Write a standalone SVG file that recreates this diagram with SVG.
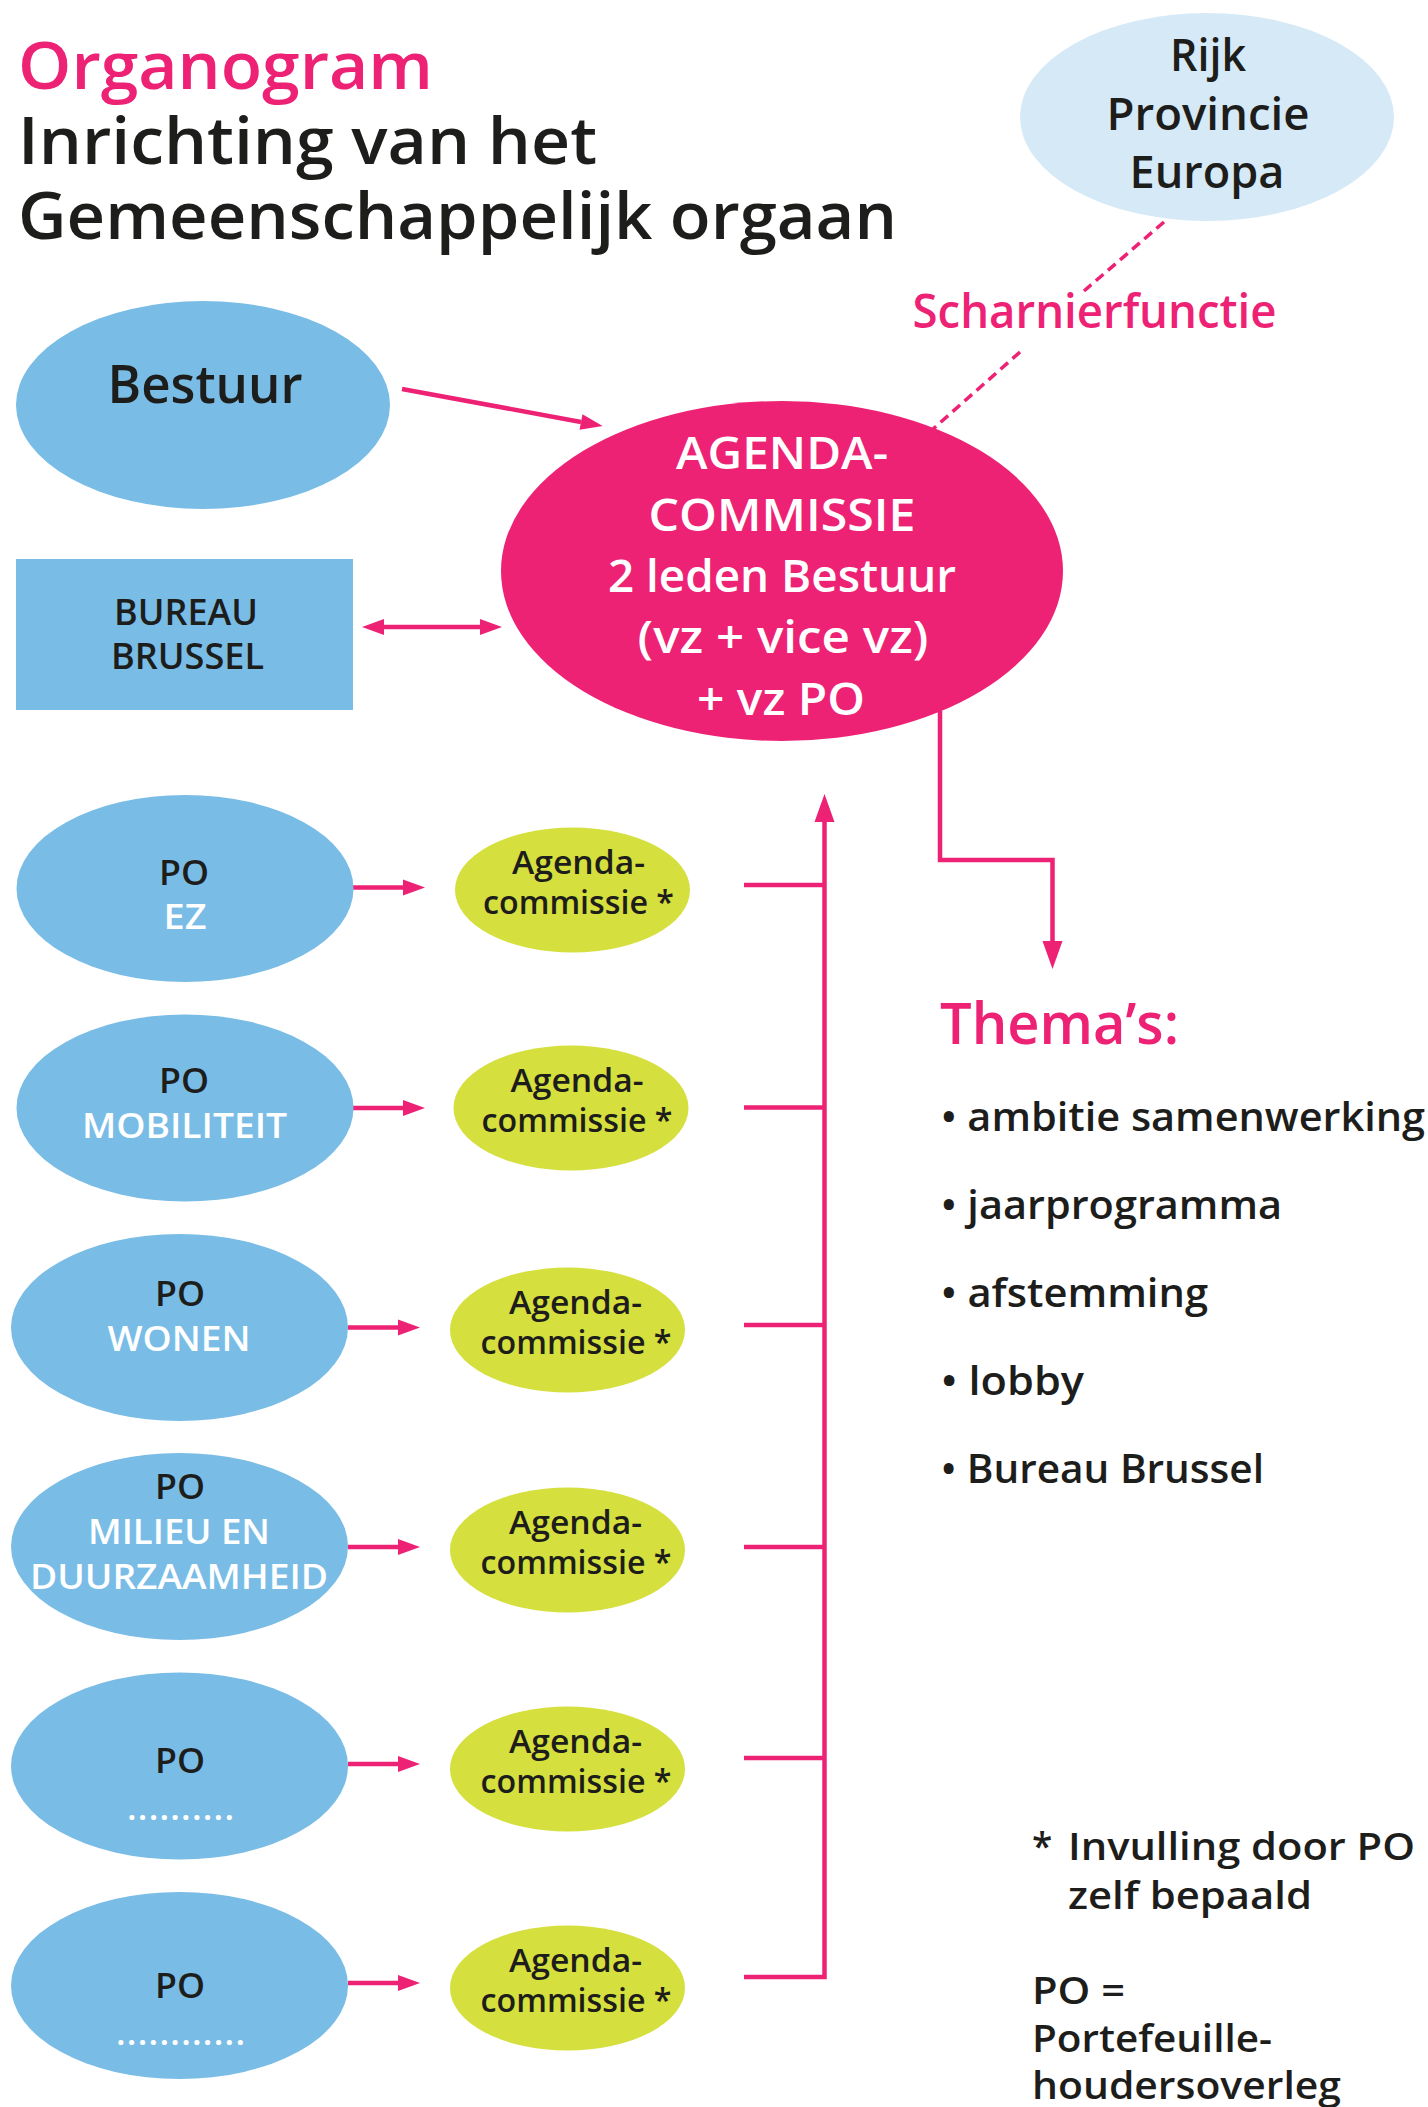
<svg xmlns="http://www.w3.org/2000/svg" width="1428" height="2107" viewBox="0 0 1428 2107">
<style>
text{font-family:"Open Sans","Noto Sans","Liberation Sans",sans-serif;font-weight:600;}
.pink{fill:#ed2275}
.blk{fill:#1d1d1b}
.wht{fill:#ffffff}
.mid{text-anchor:middle}
.blue{fill:#79bce6}
.lblue{fill:#d6e9f6}
.yel{fill:#d5df3e}
.mag{fill:#ed2275}
.ln{stroke:#ed2275;fill:none;stroke-width:4.5}
.dash{stroke:#ed2275;fill:none;stroke-width:3.5;stroke-dasharray:10 6}
.t35{font-size:35px}
.t33{font-size:33px}
</style>
<defs>
<marker id="ah" markerUnits="userSpaceOnUse" markerWidth="24" markerHeight="18" refX="0" refY="8" orient="auto-start-reverse" overflow="visible">
<path d="M0,0 L22,8 L0,16 z" fill="#ed2275"/>
</marker>
<marker id="ahb" markerUnits="userSpaceOnUse" markerWidth="30" markerHeight="22" refX="0" refY="10" orient="auto" overflow="visible">
<path d="M0,0 L28,10 L0,20 z" fill="#ed2275"/>
</marker>
</defs>

<g id="title">
<text x="18" y="89" class="pink" font-size="66" textLength="415" lengthAdjust="spacingAndGlyphs">Organogram</text>
<text x="18" y="164" class="blk" font-size="66" textLength="579" lengthAdjust="spacingAndGlyphs">Inrichting van het</text>
<text x="18" y="239" class="blk" font-size="66" textLength="879" lengthAdjust="spacingAndGlyphs">Gemeenschappelijk orgaan</text>
</g>

<g id="connectors">
<line class="dash" x1="1164" y1="222" x2="1084" y2="291"/>
<line class="dash" x1="1020" y1="352" x2="933" y2="429"/>
<line class="ln" x1="402" y1="389" x2="581" y2="422" marker-end="url(#ah)"/>
<line class="ln" x1="384" y1="627" x2="480" y2="627" marker-start="url(#ah)" marker-end="url(#ah)"/>
<path class="ln" d="M940 711 V860 H1052.5 V941" marker-end="url(#ahb)"/>
<path class="ln" stroke-width="5" d="M744 1977 H824.5 V822" marker-end="url(#ahb)"/>
<line class="ln" stroke-width="5" x1="744" y1="885" x2="824" y2="885"/>
<line class="ln" stroke-width="5" x1="744" y1="1107.5" x2="824" y2="1107.5"/>
<line class="ln" stroke-width="5" x1="744" y1="1325" x2="824" y2="1325"/>
<line class="ln" stroke-width="5" x1="744" y1="1547" x2="824" y2="1547"/>
<line class="ln" stroke-width="5" x1="744" y1="1758" x2="824" y2="1758"/>
<line class="ln" x1="353" y1="887.5" x2="403" y2="887.5" marker-end="url(#ah)"/>
<line class="ln" x1="353" y1="1108" x2="403" y2="1108" marker-end="url(#ah)"/>
<line class="ln" x1="348" y1="1327.5" x2="398" y2="1327.5" marker-end="url(#ah)"/>
<line class="ln" x1="348" y1="1547" x2="398" y2="1547" marker-end="url(#ah)"/>
<line class="ln" x1="348" y1="1764" x2="398" y2="1764" marker-end="url(#ah)"/>
<line class="ln" x1="348" y1="1983" x2="398" y2="1983" marker-end="url(#ah)"/>
</g>

<g id="rijk">
<ellipse class="lblue" cx="1207" cy="117" rx="187" ry="104"/>
<text x="1208" y="71" class="blk mid" font-size="45" textLength="76" lengthAdjust="spacingAndGlyphs">Rijk</text>
<text x="1208" y="130" class="blk mid" font-size="45" textLength="203" lengthAdjust="spacingAndGlyphs">Provincie</text>
<text x="1207" y="188" class="blk mid" font-size="45" textLength="155" lengthAdjust="spacingAndGlyphs">Europa</text>
</g>

<g id="scharnier">
<text x="1094.5" y="328" class="pink mid" font-size="47" textLength="364" lengthAdjust="spacingAndGlyphs">Scharnierfunctie</text>
</g>

<g id="bestuur">
<ellipse class="blue" cx="203" cy="405" rx="187" ry="104"/>
<text x="205" y="403" class="blk mid" font-size="52" textLength="195" lengthAdjust="spacingAndGlyphs">Bestuur</text>
</g>

<g id="agendacommissie">
<ellipse class="mag" cx="782" cy="571" rx="281" ry="170"/>
<text x="782" y="469" class="wht mid" font-size="46" textLength="212" lengthAdjust="spacingAndGlyphs">AGENDA-</text>
<text x="782" y="531" class="wht mid" font-size="46" textLength="267" lengthAdjust="spacingAndGlyphs">COMMISSIE</text>
<text x="782" y="592" class="wht mid" font-size="46" textLength="348" lengthAdjust="spacingAndGlyphs">2 leden Bestuur</text>
<text x="783" y="653" class="wht mid" font-size="46" textLength="291" lengthAdjust="spacingAndGlyphs">(vz + vice vz)</text>
<text x="781" y="715" class="wht mid" font-size="46" textLength="168" lengthAdjust="spacingAndGlyphs">+ vz PO</text>
</g>

<g id="bureau">
<rect class="blue" x="16" y="559" width="337" height="151"/>
<text x="186" y="625" class="blk mid" font-size="36" textLength="144" lengthAdjust="spacingAndGlyphs">BUREAU</text>
<text x="187.5" y="669" class="blk mid" font-size="36" textLength="153" lengthAdjust="spacingAndGlyphs">BRUSSEL</text>
</g>

<g id="po-ez">
<ellipse class="blue" cx="185" cy="888.5" rx="168.5" ry="93.5"/>
<text x="184" y="884.5" class="blk mid t35" textLength="50" lengthAdjust="spacingAndGlyphs">PO</text>
<text x="185" y="929" class="wht mid t35" textLength="43" lengthAdjust="spacingAndGlyphs">EZ</text>
</g>
<g id="po-mobiliteit">
<ellipse class="blue" cx="185" cy="1108" rx="168.5" ry="93.5"/>
<text x="184" y="1093" class="blk mid t35" textLength="50" lengthAdjust="spacingAndGlyphs">PO</text>
<text x="184.5" y="1138" class="wht mid t35" textLength="205" lengthAdjust="spacingAndGlyphs">MOBILITEIT</text>
</g>
<g id="po-wonen">
<ellipse class="blue" cx="179.5" cy="1327.5" rx="168.5" ry="93.5"/>
<text x="180" y="1306" class="blk mid t35" textLength="50" lengthAdjust="spacingAndGlyphs">PO</text>
<text x="179" y="1351" class="wht mid t35" textLength="143" lengthAdjust="spacingAndGlyphs">WONEN</text>
</g>
<g id="po-milieu">
<ellipse class="blue" cx="179.5" cy="1546.5" rx="168.5" ry="93.5"/>
<text x="180" y="1499" class="blk mid t35" textLength="50" lengthAdjust="spacingAndGlyphs">PO</text>
<text x="179" y="1544" class="wht mid t35" textLength="182" lengthAdjust="spacingAndGlyphs">MILIEU EN</text>
<text x="179" y="1589" class="wht mid t35" textLength="298" lengthAdjust="spacingAndGlyphs">DUURZAAMHEID</text>
</g>
<g id="po-5">
<ellipse class="blue" cx="179.5" cy="1766" rx="168.5" ry="93.5"/>
<text x="180" y="1773" class="blk mid t35" textLength="50" lengthAdjust="spacingAndGlyphs">PO</text>
<text x="127" y="1820" class="wht t35" textLength="107" lengthAdjust="spacing">..........</text>
</g>
<g id="po-6">
<ellipse class="blue" cx="179.5" cy="1985.5" rx="168.5" ry="93.5"/>
<text x="180" y="1998" class="blk mid t35" textLength="50" lengthAdjust="spacingAndGlyphs">PO</text>
<text x="116" y="2045" class="wht t35" textLength="129" lengthAdjust="spacing">............</text>
</g>

<g id="ac-1">
<ellipse class="yel" cx="572.5" cy="890" rx="117.5" ry="62.5"/>
<text x="578.5" y="874" class="blk mid t33" textLength="133" lengthAdjust="spacingAndGlyphs">Agenda-</text>
<text x="578.5" y="914" class="blk mid t33" textLength="191" lengthAdjust="spacingAndGlyphs">commissie *</text>
</g>
<g id="ac-2">
<ellipse class="yel" cx="571" cy="1108" rx="117.5" ry="62.5"/>
<text x="577" y="1092" class="blk mid t33" textLength="133" lengthAdjust="spacingAndGlyphs">Agenda-</text>
<text x="577" y="1132" class="blk mid t33" textLength="191" lengthAdjust="spacingAndGlyphs">commissie *</text>
</g>
<g id="ac-3">
<ellipse class="yel" cx="567.5" cy="1330" rx="117.5" ry="62.5"/>
<text x="575.5" y="1314" class="blk mid t33" textLength="133" lengthAdjust="spacingAndGlyphs">Agenda-</text>
<text x="576" y="1354" class="blk mid t33" textLength="191" lengthAdjust="spacingAndGlyphs">commissie *</text>
</g>
<g id="ac-4">
<ellipse class="yel" cx="567.5" cy="1550" rx="117.5" ry="62.5"/>
<text x="575.5" y="1534" class="blk mid t33" textLength="133" lengthAdjust="spacingAndGlyphs">Agenda-</text>
<text x="576" y="1574" class="blk mid t33" textLength="191" lengthAdjust="spacingAndGlyphs">commissie *</text>
</g>
<g id="ac-5">
<ellipse class="yel" cx="567.5" cy="1769" rx="117.5" ry="62.5"/>
<text x="575.5" y="1753" class="blk mid t33" textLength="133" lengthAdjust="spacingAndGlyphs">Agenda-</text>
<text x="576" y="1793" class="blk mid t33" textLength="191" lengthAdjust="spacingAndGlyphs">commissie *</text>
</g>
<g id="ac-6">
<ellipse class="yel" cx="567.5" cy="1988" rx="117.5" ry="62.5"/>
<text x="575.5" y="1972" class="blk mid t33" textLength="133" lengthAdjust="spacingAndGlyphs">Agenda-</text>
<text x="576" y="2012" class="blk mid t33" textLength="191" lengthAdjust="spacingAndGlyphs">commissie *</text>
</g>

<g id="themas">
<text x="940" y="1044" class="pink" font-size="57" textLength="239" lengthAdjust="spacingAndGlyphs">Thema’s:</text>
<text x="941" y="1131" class="blk" font-size="40" textLength="484" lengthAdjust="spacingAndGlyphs">• ambitie samenwerking</text>
<text x="941" y="1219" class="blk" font-size="40" textLength="341" lengthAdjust="spacingAndGlyphs">• jaarprogramma</text>
<text x="941" y="1307" class="blk" font-size="40" textLength="267" lengthAdjust="spacingAndGlyphs">• afstemming</text>
<text x="941" y="1395" class="blk" font-size="40" textLength="143" lengthAdjust="spacingAndGlyphs">• lobby</text>
<text x="941" y="1483" class="blk" font-size="40" textLength="323" lengthAdjust="spacingAndGlyphs">• Bureau Brussel</text>
</g>

<g id="legend">
<text x="1032" y="1860" class="blk" font-size="37">*</text>
<text x="1068" y="1860" class="blk" font-size="37" textLength="347" lengthAdjust="spacingAndGlyphs">Invulling door PO</text>
<text x="1068" y="1909" class="blk" font-size="37" textLength="244" lengthAdjust="spacingAndGlyphs">zelf bepaald</text>
<text x="1032" y="2004" class="blk" font-size="37" textLength="93" lengthAdjust="spacingAndGlyphs">PO =</text>
<text x="1032" y="2052" class="blk" font-size="37" textLength="240" lengthAdjust="spacingAndGlyphs">Portefeuille-</text>
<text x="1032" y="2099" class="blk" font-size="37" textLength="309" lengthAdjust="spacingAndGlyphs">houdersoverleg</text>
</g>
</svg>
